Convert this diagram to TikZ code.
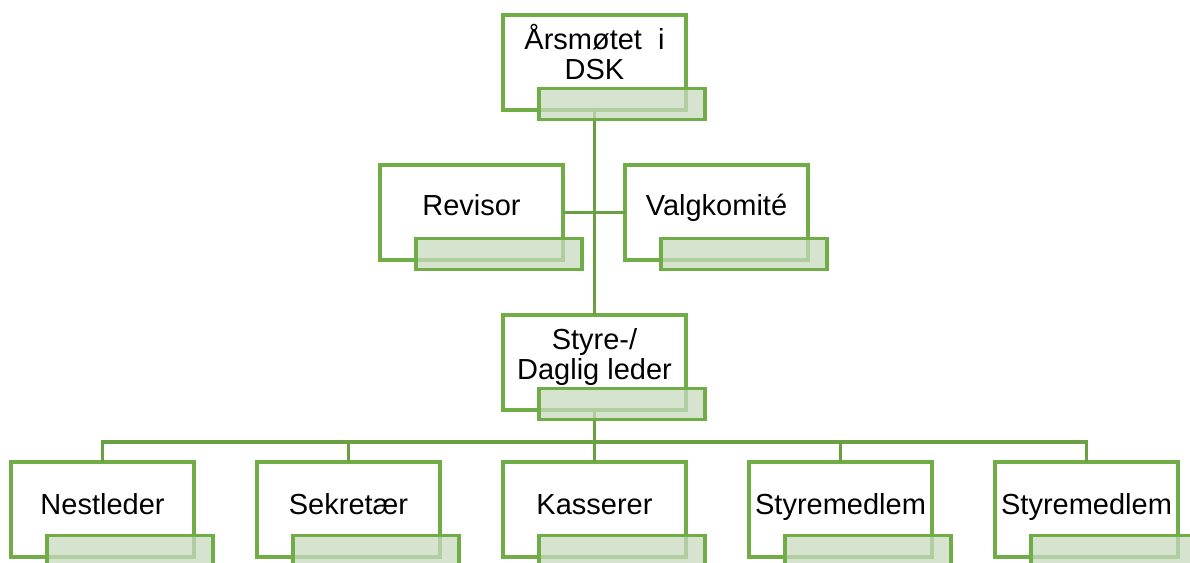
\documentclass[tikz,border=0pt]{standalone}
\usepackage{fontspec}
\setmainfont{Liberation Sans}
\definecolor{grn}{RGB}{112,173,71}
\definecolor{lnk}{RGB}{104,160,66}
\definecolor{lblfill}{RGB}{199,218,191}
\newcommand\orgmain[3]{\node[mainbox] (#1) at ({#2+91.5},{#3+47.5}) {};}
\newcommand\orglbl[3]{\node[lblbox] (#1L) at ({#2+119},{#3+89}) {};}
\newcommand\orgtxt[5]{\node[txt] (#1T) at ({#2+91.5},{#3+#5}) {#4};}
\begin{document}
\begin{tikzpicture}[x=1pt,y=-1pt,
  mainbox/.style={draw=grn,line width=3.2pt,fill=white,minimum width=183pt,minimum height=95pt,inner sep=0pt,outer sep=0pt},
  lblbox/.style={draw=grn,line width=3.2pt,fill=lblfill,fill opacity=0.75,minimum width=166pt,minimum height=31pt,inner sep=0pt,outer sep=0pt},
  txt/.style={font=\fontsize{29}{30}\selectfont,align=center,anchor=base,inner sep=0pt},
  conn/.style={draw=lnk,line width=3.2pt}]
\useasboundingbox (0,0) rectangle (1190,562);
% main boxes
\orgmain{top}{503}{15}
\orgmain{rev}{380}{165}
\orgmain{val}{625}{165}
\orgmain{sty}{503}{315}
\orgmain{n1}{11}{462}
\orgmain{n2}{257}{462}
\orgmain{n3}{503}{462}
\orgmain{n4}{749}{462}
\orgmain{n5}{995}{462}
% connectors
\coordinate (bus) at (594.5,442);
\draw[conn] (top.south) -- (sty.north);
\draw[conn] (rev.east) -- (val.west);
\draw[conn] (sty.south) -- (bus);
\draw[conn] (bus) -| (n1.north);
\draw[conn] (bus) -| (n2.north);
\draw[conn] (bus) -- (n3.north);
\draw[conn] (bus) -| (n4.north);
\draw[conn] (bus) -| (n5.north);
% label boxes
\orglbl{top}{503}{15}
\orglbl{rev}{380}{165}
\orglbl{val}{625}{165}
\orglbl{sty}{503}{315}
\orglbl{n1}{11}{462}
\orglbl{n2}{257}{462}
\orglbl{n3}{503}{462}
\orglbl{n4}{749}{462}
\orglbl{n5}{995}{462}
% texts
\orgtxt{top}{503}{15}{Årsmøtet\ \ i\\DSK}{64}
\orgtxt{rev}{380}{165}{Revisor}{50}
\orgtxt{val}{625}{165}{Valgkomité}{50}
\orgtxt{sty}{503}{315}{Styre-/\\Daglig leder}{64}
\orgtxt{n1}{11}{462}{Nestleder}{52}
\orgtxt{n2}{257}{462}{Sekretær}{52}
\orgtxt{n3}{503}{462}{Kasserer}{52}
\orgtxt{n4}{749}{462}{Styremedlem}{52}
\orgtxt{n5}{995}{462}{Styremedlem}{52}
\end{tikzpicture}
\end{document}
